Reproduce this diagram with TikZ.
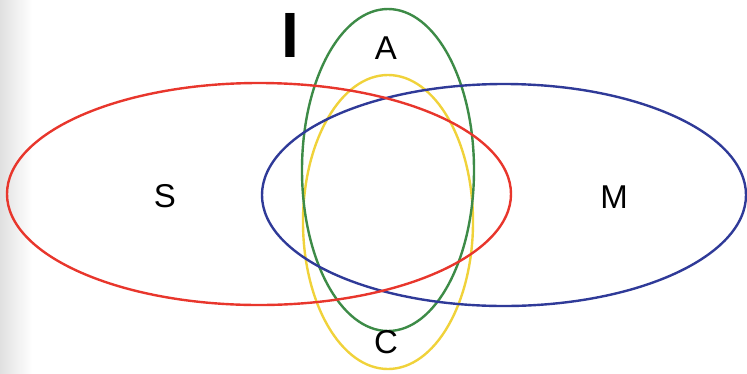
\documentclass[tikz,border=0pt]{standalone}
\usepackage{fontspec}
\setmainfont{Liberation Sans}
\definecolor{setred}{HTML}{E8362C}
\definecolor{setblue}{HTML}{2F3A98}
\definecolor{setgreen}{HTML}{3D8B47}
\definecolor{setyellow}{HTML}{F0D23A}
\usetikzlibrary{positioning}

\begin{document}
\begin{tikzpicture}[x=1pt,y=-1pt,every node/.style={font=\fontsize{33}{36}\selectfont}]
\tikzstyle{setline}=[line width=2.4pt]
\useasboundingbox (0,0) rectangle (747,373);
% scan edge on the left
\shade[left color=black!12,right color=white] (0,0) rectangle (32,373);
% the four sets
\draw[setline,setyellow] (388,222) ellipse [x radius=85,y radius=147];
\draw[setline,setgreen] (388,170) ellipse [x radius=86,y radius=161];
\draw[setline,setblue] (504,195) ellipse [x radius=242,y radius=111];
\draw[setline,setred] (259,194) ellipse [x radius=252,y radius=111];
% labels
\node (lbls) at (165,196) {S};
\node (lblm) at (614,197) {M};
\node (lbla) at (386,48) {A};
\node (lblc) at (386,342) {C};
\node[font=\fontsize{64}{70}\selectfont\bfseries] (lbli) at (290,35) {I};
\end{tikzpicture}
\end{document}
